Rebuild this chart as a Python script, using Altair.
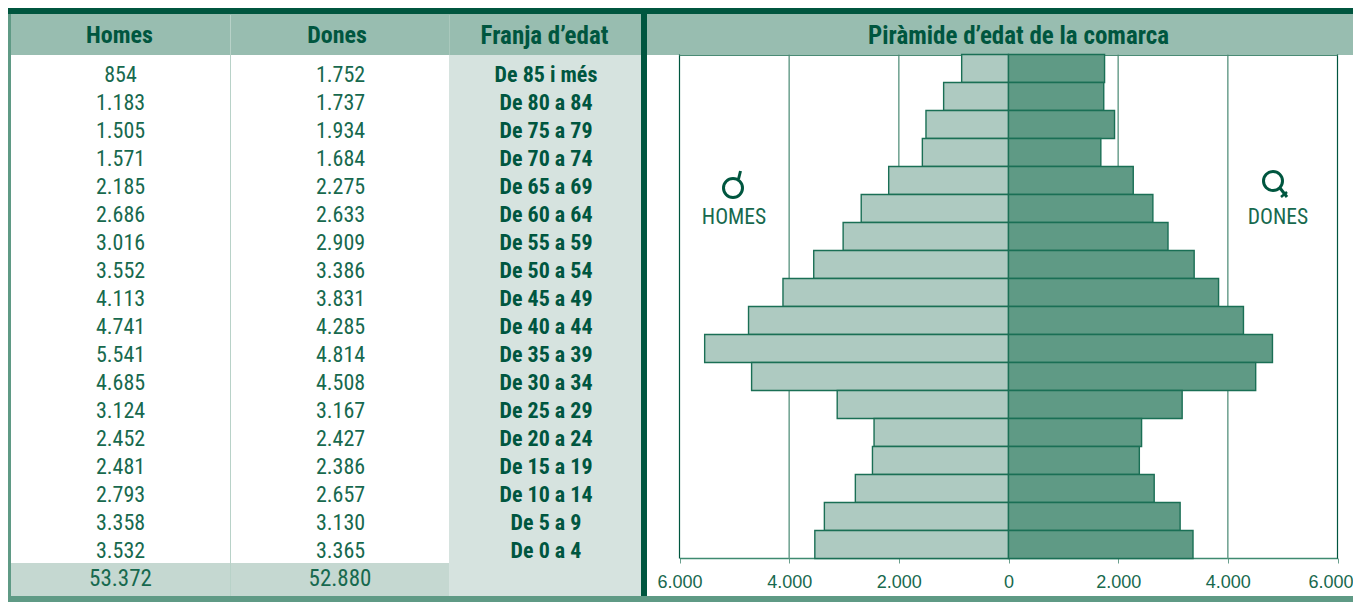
import altair as alt
import pandas as pd

AGES = ["De 85 i més","De 80 a 84","De 75 a 79","De 70 a 74","De 65 a 69","De 60 a 64","De 55 a 59","De 50 a 54","De 45 a 49",
        "De 40 a 44","De 35 a 39","De 30 a 34","De 25 a 29","De 20 a 24","De 15 a 19","De 10 a 14","De 5 a 9","De 0 a 4"]
HOMES = [854,1183,1505,1571,2185,2686,3016,3552,4113,4741,5541,4685,3124,2452,2481,2793,3358,3532]
DONES = [1752,1737,1934,1684,2275,2633,2909,3386,3831,4285,4814,4508,3167,2427,2386,2657,3130,3365]
TOTAL_HOMES = "53.372"
TOTAL_DONES = "52.880"
TICKS = [-6000,-4000,-2000,0,2000,4000,6000]
GRID_INNER = [-4000,-2000,2000,4000]
GRID_OUTER = [-6000,6000]

DARK = "#00563f"; MID = "#5f9a85"; HEAD = "#98bdb0"; LIGHT = "#d6e3df"; TOT = "#c5d8d1"
TXT = "#17694e"; STROKE = "#1a6f55"; SEP = "#b8d2c8"
NARROW = "Roboto Condensed, DejaVu Sans Condensed, sans-serif"
OFF = 8
BOTTOM = 594  # svg height

fmt = lambda v: f"{v:,}".replace(",", ".")
df = pd.DataFrame({"age": AGES, "h": HOMES, "d": DONES,
                   "hs": [-v for v in HOMES],
                   "ht": [fmt(v) for v in HOMES], "dt": [fmt(v) for v in DONES]})
one = pd.DataFrame({"k": [0]})
xs = alt.Scale(domain=[-6000, 6000], range=[671.5, 1329.5])
ys = alt.Scale(domain=AGES, range=[46.5, 550.5], paddingInner=0, paddingOuter=0)


def rect(x0, x1, y0, y1, color):
    return alt.Chart(one).mark_rect(color=color, strokeWidth=0).encode(
        x=alt.value(x0 - OFF), x2=alt.value(x1 - OFF), y=alt.value(y0 - OFF), y2=alt.value(y1 - OFF))


def label(text, cx, cy, size, weight="normal", color=TXT, font=NARROW):
    return alt.Chart(pd.DataFrame({"t": [text]})).mark_text(
        font=font, fontSize=size, fontWeight=weight, color=color, baseline="middle", align="center"
    ).encode(x=alt.value(cx - OFF), y=alt.value(cy - OFF), text="t:N")


def stroke_line(x0, y0, x1, y1, w=3):
    return alt.Chart(one).mark_rule(color=DARK, strokeWidth=w).encode(
        x=alt.value(x0 - OFF), x2=alt.value(x1 - OFF), y=alt.value(y0 - OFF), y2=alt.value(y1 - OFF))


def column(field, cx, size, weight, color):
    return alt.Chart(df).mark_text(
        font=NARROW, fontSize=size, fontWeight=weight, color=color, baseline="middle", align="center", dy=6
    ).encode(x=alt.value(cx - OFF), y=alt.Y("age:N", scale=ys, axis=None), text=f"{field}:N")


backgrounds = [
    rect(8, 1361, 0, 14, DARK),
    rect(8, 11, 14, 597, MID),
    rect(11, 1361, 14, 55, HEAD),
    rect(449, 641, 55, 597, LIGHT),
    rect(11, 449, 563, 597, TOT),
    rect(230, 231, 15, 597, SEP),
    rect(449, 450, 15, 55, "#a9c8bc"),
    rect(641, 647, 14, 597, DARK),
    rect(8, 1361, 596, 602, MID),
]

texts = [
    label("Homes", 119.5, 35.5, 24, "bold", DARK),
    label("Dones", 337, 35.5, 24, "bold", DARK),
    label("Franja d’edat", 544.5, 35.5, 25, "bold", DARK),
    label("Piràmide d’edat de la comarca", 1018.5, 35.5, 25, "bold", DARK),
    column("ht", 120.5, 22, "normal", TXT),
    column("dt", 340.5, 22, "normal", TXT),
    column("age", 546, 22, "bold", DARK),
    label(TOTAL_HOMES, 120.5, 579, 23),
    label(TOTAL_DONES, 340, 579, 23),
    label("HOMES", 734, 218, 21.5),
    label("DONES", 1278, 218, 21.5),
]

grid_inner = alt.Chart(pd.DataFrame({"v": GRID_INNER})).mark_rule(color="#6ca08e", strokeWidth=1.5).encode(
    x=alt.X("v:Q", scale=xs), y=alt.value(46.5), y2=alt.value(550.5))
grid_outer = alt.Chart(pd.DataFrame({"v": GRID_OUTER})).mark_rule(color=DARK, strokeWidth=1.2).encode(
    x=alt.X("v:Q", scale=xs), y=alt.value(46.5), y2=alt.value(550.5))
top_line = alt.Chart(pd.DataFrame({"a": [-6000], "b": [6000]})).mark_rule(color="#4b8b75", strokeWidth=1.2).encode(
    x=alt.X("a:Q", scale=xs), x2="b:Q", y=alt.value(47.5))

axis = alt.Axis(values=TICKS, title=None, grid=False, domainColor="#3f8a70", domainWidth=1.3,
                tickColor="#6ca08e", tickWidth=1, tickSize=5, labelColor=TXT, labelFont="Liberation Sans",
                labelFontSize=18, labelPadding=10, labelFlush=False,
                labelOffset={"condition": {"test": "datum.value === 6000", "value": -7}, "value": 0},
                labelExpr="replace(format(abs(datum.value), ','), ',', '.')")

bars_h = alt.Chart(df).mark_bar(color="#aecac1", stroke=STROKE, strokeWidth=1.4).encode(
    x=alt.X("hs:Q", scale=xs, axis=axis, stack=None), y=alt.Y("age:N", scale=ys, axis=None))
bars_d = alt.Chart(df).mark_bar(color=MID, stroke=STROKE, strokeWidth=1.4).encode(
    x=alt.X("d:Q", scale=xs, stack=None), y=alt.Y("age:N", scale=ys, axis=None))

circle_m = alt.Chart(one).mark_point(shape="circle", filled=False, color=DARK, size=361, strokeWidth=3, opacity=1).encode(
    x=alt.value(733 - OFF), y=alt.value(188 - OFF))
circle_f = alt.Chart(one).mark_point(shape="circle", filled=False, color=DARK, size=361, strokeWidth=3, opacity=1).encode(
    x=alt.value(1273 - OFF), y=alt.value(181 - OFF))
symbols = [
    circle_m, stroke_line(738.5, 179, 740.5, 171),
    circle_f, stroke_line(1280, 188, 1287, 197), stroke_line(1281, 197, 1287, 192, 2.5),
]

chart = alt.layer(
    *backgrounds, grid_inner, grid_outer, top_line, bars_h, bars_d, *texts, *symbols
).properties(
    width=1345, height=550,
    padding={"left": 0, "right": 0, "top": 0, "bottom": BOTTOM - 550},
    autosize=alt.AutoSizeParams(type="none"),
    background="white",
).configure_view(stroke=None)

chart.save("out.html", embed_options={"renderer": "svg", "actions": False})
